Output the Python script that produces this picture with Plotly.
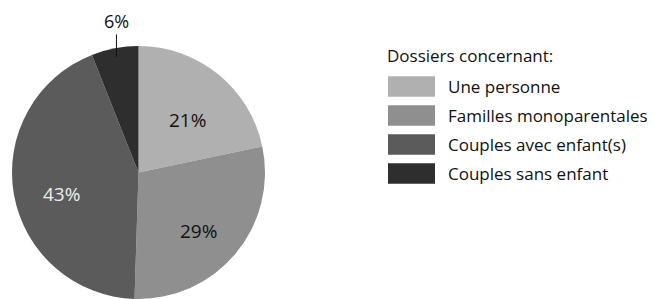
import math
import plotly.graph_objects as go

categories = ["Une personne", "Familles monoparentales", "Couples avec enfant(s)", "Couples sans enfant"]
values = [21.7, 28.8, 43.5, 6.0]
text_labels = ["21%", "29%", "43%", "6%"]
colors = ["#b0b0b0", "#8f8f8f", "#5b5b5b", "#2e2e2e"]
text_colors = ["#111111", "#111111", "#eeeeee", "#111111"]
legend_title = "Dossiers concernant:"

# the page body has an 8px default margin; shrink the figure so it fits the window
OFF = 8
W, H = 655 - OFF, 299 - OFF
FONT = "Open Sans"


def px(x):
    return (x - OFF) / W


def py(y):
    return 1 - (y - OFF) / H


dom_x = [px(12), px(265)]
dom_y = [0, py(46)]

fig = go.Figure(go.Pie(
    labels=categories,
    values=values,
    textinfo="none",
    sort=False,
    direction="clockwise",
    rotation=0,
    marker=dict(colors=colors, line=dict(width=0)),
    domain=dict(x=dom_x, y=dom_y),
    hoverinfo="label+percent",
    showlegend=False,
))

# slice labels placed at each slice's mid-angle, derived from the values
cx_px = (dom_x[0] + dom_x[1]) / 2 * W
cy_px = (dom_y[0] + dom_y[1]) / 2 * H
radius = min((dom_x[1] - dom_x[0]) * W, (dom_y[1] - dom_y[0]) * H) / 2
total = sum(values)
cum = 0.0
for i, v in enumerate(values):
    mid = (cum + v / 2) / total * 2 * math.pi
    cum += v
    if i < 3:
        r = 0.62 * radius
        lx = cx_px + r * math.sin(mid)
        ly = cy_px + r * math.cos(mid)
        fig.add_annotation(
            x=lx / W, y=ly / H, xref="paper", yref="paper",
            text=text_labels[i], showarrow=False,
            xanchor="center", yanchor="middle", yshift=-8,
            font=dict(family=FONT, size=19, color=text_colors[i]),
        )
    else:
        # small slice: label outside with a vertical leader line
        r = 0.93 * radius
        lx = cx_px + r * math.sin(mid)
        ly = cy_px + r * math.cos(mid)
        fig.add_annotation(
            x=lx / W, y=ly / H, xref="paper", yref="paper",
            text=text_labels[i], showarrow=True, arrowhead=0, arrowwidth=1,
            arrowcolor="#111111", ax=0, ay=-36, standoff=0,
            font=dict(family=FONT, size=18, color=text_colors[i]),
        )

# custom legend with wide swatches
fig.add_annotation(
    x=px(385), y=py(56), xref="paper", yref="paper",
    xanchor="left", yanchor="middle", showarrow=False,
    text=legend_title, font=dict(family=FONT, size=17, color="#111111"),
)
row0, step, sw_h = 86.5, 29, 20.5
for i, (cat, col) in enumerate(zip(categories, colors)):
    yc = row0 + i * step
    fig.add_shape(
        type="rect", xref="paper", yref="paper",
        x0=px(388), x1=px(435),
        y0=py(yc + sw_h / 2), y1=py(yc - sw_h / 2),
        fillcolor=col, line=dict(width=0),
    )
    fig.add_annotation(
        x=px(446), y=py(yc), xref="paper", yref="paper",
        xanchor="left", yanchor="middle", showarrow=False,
        text=cat, font=dict(family=FONT, size=17, color="#111111"),
    )

fig.update_layout(
    width=W, height=H,
    margin=dict(l=0, r=0, t=0, b=0),
    paper_bgcolor="white",
    plot_bgcolor="white",
    font=dict(family=FONT, size=17, color="#111111"),
    showlegend=False,
)

fig.write_html("out.html")
